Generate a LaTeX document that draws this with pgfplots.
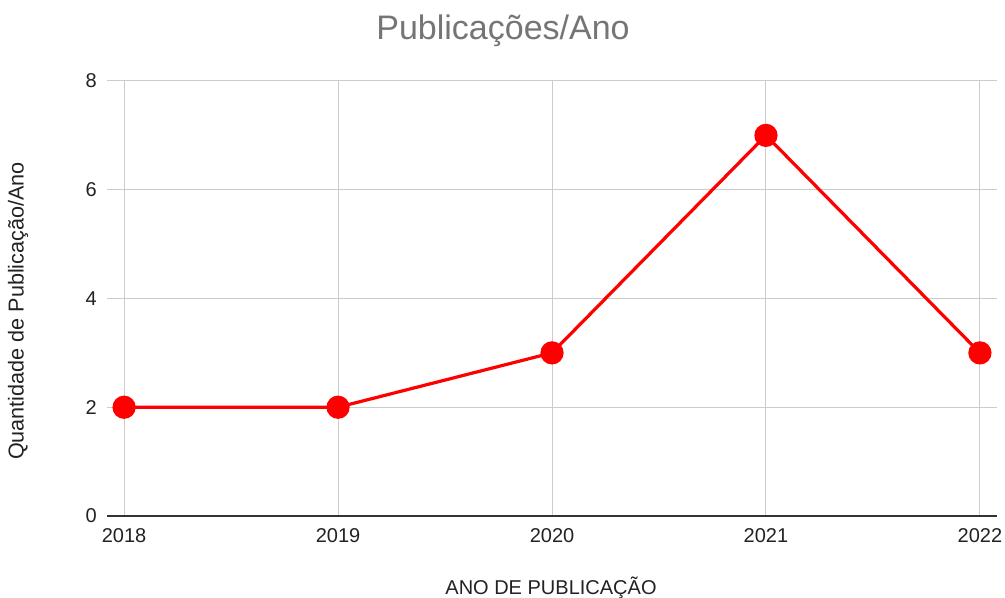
\documentclass[border=0pt]{standalone}
\usepackage{pgfplots}
\pgfplotsset{compat=1.18}
\usepackage{fontspec}
\setmainfont{Liberation Sans}
\definecolor{gridc}{HTML}{CCCCCC}
\definecolor{axc}{HTML}{333333}
\definecolor{titc}{HTML}{757575}
\definecolor{txt}{HTML}{222222}
\begin{document}
\begin{tikzpicture}
\useasboundingbox (0,0) rectangle (753.75pt,448.5pt);
\begin{axis}[
  at={(80.25pt,61.5pt)}, anchor=south west,
  scale only axis, width=667.5pt, height=326.25pt,
  xmin=2017.92, xmax=2022.08, ymin=0, ymax=8,
  xtick={2018,2019,2020,2021,2022},
  xticklabels={2018,2019,2020,2021,2022},
  ytick={0,2,4,6,8},
  /pgf/number format/assume math mode=true,
  major tick length=0pt,
  axis line style={draw=none},
  grid=major,
  grid style={gridc, line width=0.75pt},
  extra y ticks={0}, extra y tick labels={},
  extra y tick style={grid style={axc, line width=1.2pt}},
  tick label style={font=\fontsize{15}{18}\selectfont, text=txt},
  yticklabel style={inner sep=0pt, xshift=-7.5pt},
  xticklabel style={inner sep=0pt, yshift=-9pt},
  clip=false,
]
\addplot[red, line width=2.4pt, mark=*, mark size=7.5pt, mark options={fill=red, draw=red}]
  coordinates {(2018,2) (2019,2) (2020,3) (2021,7) (2022,3)};
\end{axis}
\begin{scope}[x=0.75pt,y=0.75pt]
\node[text=titc, font=\fontsize{25.5}{30}\selectfont] at (503,567) {Publicações/Ano};
\node[text=txt, font=\fontsize{15}{18}\selectfont] at (551,10) {ANO DE PUBLICAÇÃO};
\node[text=txt, font=\fontsize{16.2}{19}\selectfont, rotate=90] at (18,287) {Quantidade de Publicação/Ano};
\end{scope}
\end{tikzpicture}
\end{document}
